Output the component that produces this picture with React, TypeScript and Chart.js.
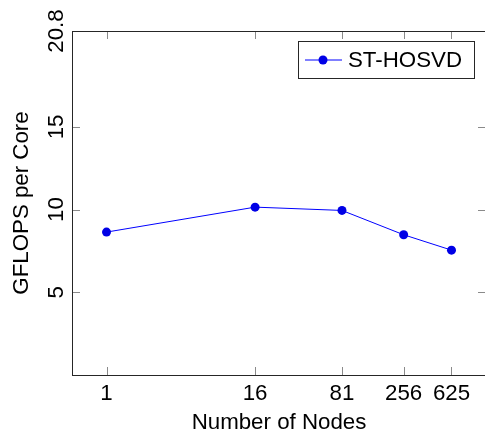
import React, { useEffect, useRef } from "react";
import { Chart, registerables } from "chart.js";

Chart.register(...registerables);

const nodes = [1, 16, 81, 256, 625];
const gflopsPerCore = [8.64, 10.15, 9.95, 8.48, 7.55];
const xTickValues = [1, 16, 81, 256, 625];
const yTickValues = [5, 10, 15, 20.8];
const yTickLabels = ["5", "10", "15", "20.8"];
const seriesLabel = "ST-HOSVD";
const xTitle = "Number of Nodes";
const yTitle = "GFLOPS per Core";

const FONT = "'Liberation Sans', Arial, Helvetica, sans-serif";
const FS = 22.3;

const framePlugin = {
  id: "framePlugin",
  afterDraw(chart: any) {
    const { ctx, chartArea } = chart;
    const { left, right, top, bottom } = chartArea;
    const xs = chart.scales.x;
    const ys = chart.scales.y;
    ctx.save();
    // ticks
    ctx.strokeStyle = "#8a8a8a";
    ctx.lineWidth = 1;
    const tl = 8;
    xTickValues.forEach((v) => {
      const px = Math.round(xs.getPixelForValue(v)) + 0.5;
      ctx.beginPath();
      ctx.moveTo(px, bottom);
      ctx.lineTo(px, bottom - tl);
      ctx.moveTo(px, top);
      ctx.lineTo(px, top + tl);
      ctx.stroke();
    });
    yTickValues.forEach((v) => {
      const py = Math.round(ys.getPixelForValue(v)) + 0.5;
      ctx.beginPath();
      ctx.moveTo(left, py);
      ctx.lineTo(left + tl, py);
      ctx.moveTo(right, py);
      ctx.lineTo(right - tl, py);
      ctx.stroke();
    });
    // frame
    ctx.strokeStyle = "#262626";
    ctx.lineWidth = 1;
    ctx.strokeRect(Math.round(left) + 0.5, Math.round(top) + 0.5, Math.round(right - left), Math.round(bottom - top));
    // y tick labels (rotated)
    ctx.fillStyle = "#000";
    ctx.font = `${FS}px ${FONT}`;
    ctx.textAlign = "center";
    ctx.textBaseline = "middle";
    yTickValues.forEach((v, i) => {
      const py = ys.getPixelForValue(v);
      ctx.save();
      ctx.translate(56, py);
      ctx.rotate(-Math.PI / 2);
      ctx.fillText(yTickLabels[i], 0, 1);
      ctx.restore();
    });
    // legend
    const ds = chart.data.datasets[0];
    const bx = 298.5, by = 41.5, bw = 176, bh = 37;
    ctx.fillStyle = "#fff";
    ctx.fillRect(bx, by, bw, bh);
    ctx.strokeStyle = "#262626";
    ctx.strokeRect(bx, by, bw, bh);
    const ly = by + bh / 2;
    ctx.strokeStyle = ds.borderColor;
    ctx.lineWidth = ds.borderWidth;
    ctx.beginPath();
    ctx.moveTo(305, ly);
    ctx.lineTo(342, ly);
    ctx.stroke();
    ctx.fillStyle = ds.pointBackgroundColor;
    ctx.beginPath();
    ctx.arc(323, ly, ds.pointRadius, 0, Math.PI * 2);
    ctx.fill();
    ctx.fillStyle = "#000";
    ctx.textAlign = "left";
    ctx.textBaseline = "middle";
    ctx.fillText(ds.label, 348, ly + 1);
    ctx.restore();
  },
};

export default function App() {
  const ref = useRef<HTMLCanvasElement>(null);
  useEffect(() => {
    if (!ref.current) return;
    const chart = new Chart(ref.current, {
      type: "line",
      data: {
        datasets: [
          {
            label: seriesLabel,
            data: nodes.map((n, i) => ({ x: n, y: gflopsPerCore[i] })),
            borderColor: "#0000ff",
            backgroundColor: "#0000ff",
            pointBackgroundColor: "#0000e6",
            pointBorderColor: "#0000e6",
            pointRadius: 4.5,
            pointBorderWidth: 0,
            borderWidth: 1,
            tension: 0,
            fill: false,
          },
        ],
      },
      options: {
        animation: false,
        responsive: false,
        devicePixelRatio: 1,
        layout: { padding: { top: 31, right: 14, left: 0, bottom: 0 } },
        plugins: { legend: { display: false }, tooltip: { enabled: false } },
        scales: {
          x: {
            type: "logarithmic",
            min: 0.525,
            max: 1190,
            grid: { display: false },
            border: { display: false },
            afterBuildTicks: (s: any) => {
              s.ticks = xTickValues.map((v) => ({ value: v }));
            },
            afterFit: (s: any) => {
              s.height = 58;
            },
            ticks: {
              autoSkip: false,
              maxRotation: 0,
              padding: -3,
              color: "#000",
              font: { family: FONT, size: FS },
              callback: (v: any) => String(v),
            },
            title: {
              display: true,
              text: xTitle,
              color: "#000",
              font: { family: FONT, size: FS, lineHeight: 1 },
              padding: { top: 0, bottom: -1 },
            },
          },
          y: {
            min: 0,
            max: 20.8,
            grid: { display: false },
            border: { display: false },
            afterBuildTicks: (s: any) => {
              s.ticks = yTickValues.map((v) => ({ value: v }));
            },
            afterFit: (s: any) => {
              s.width = 72;
            },
            ticks: { display: false },
            title: {
              display: true,
              text: yTitle,
              color: "#000",
              font: { family: FONT, size: FS, lineHeight: 1 },
              padding: { top: 11, bottom: 0 },
            },
          },
        },
      },
      plugins: [framePlugin],
    });
    return () => chart.destroy();
  }, []);
  return (
    <div style={{ position: "fixed", left: 0, top: 0, width: 500, height: 433, overflow: "hidden", background: "#fff" }}>
      <canvas ref={ref} width={500} height={433} style={{ display: "block" }} />
    </div>
  );
}
